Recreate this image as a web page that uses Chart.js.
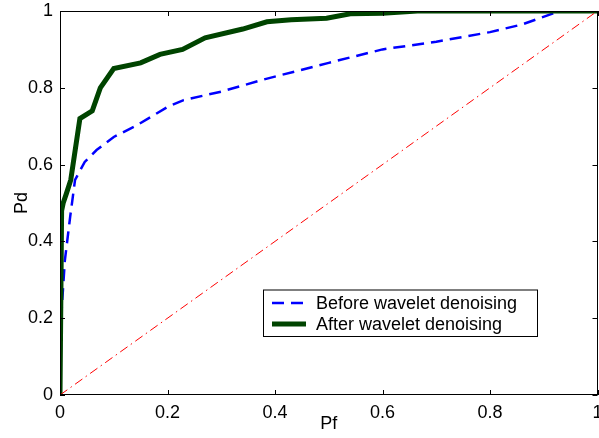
<!DOCTYPE html>
<html>
<head>
<meta charset="utf-8">
<script src="https://cdn.jsdelivr.net/npm/chart.js@4.4.0/dist/chart.umd.min.js"></script>
<style>
  html, body { margin: 0; padding: 0; background: #fff; }
</style>
</head>
<body>
<canvas id="roc" width="599" height="438"></canvas>
<script>
// data
const beforeX = [0, 0.003, 0.009, 0.019, 0.028, 0.046, 0.068, 0.1, 0.14, 0.2, 0.23, 0.3, 0.38, 0.5, 0.6, 0.7, 0.8, 0.86, 0.93, 1];
const beforeY = [0, 0.22, 0.35, 0.465, 0.56, 0.607, 0.638, 0.672, 0.7, 0.75, 0.768, 0.79, 0.822, 0.865, 0.9, 0.92, 0.945, 0.965, 1, 1];
const afterX = [0, 0.003, 0.006, 0.012, 0.02, 0.037, 0.06, 0.075, 0.1, 0.15, 0.186, 0.228, 0.27, 0.34, 0.385, 0.43, 0.496, 0.54, 0.6, 0.665, 1];
const afterY = [0, 0.48, 0.5, 0.525, 0.56, 0.72, 0.74, 0.8, 0.85, 0.865, 0.887, 0.9, 0.93, 0.953, 0.972, 0.977, 0.981, 0.993, 0.994, 1, 1];
const diagX = [0, 1];
const diagY = [0, 1];
const tickVals = [0, 0.2, 0.4, 0.6, 0.8, 1];
const tickText = ['0', '0.2', '0.4', '0.6', '0.8', '1'];
const labels = ['Before wavelet denoising', 'After wavelet denoising'];

const FONT = '"Liberation Sans", Arial, Helvetica, sans-serif';

function pts(xs, ys) {
  return xs.map((x, i) => ({ x: x, y: ys[i] }));
}

// box round the axes with MATLAB style inward ticks
const boxTicks = {
  id: 'boxTicks',
  afterDatasetsDraw(chart) {
    const { ctx, chartArea: a, scales } = chart;
    const len = 5;
    ctx.save();
    ctx.strokeStyle = '#000';
    ctx.lineWidth = 1;
    ctx.strokeRect(Math.round(a.left) + 0.5, Math.round(a.top) + 0.5,
      Math.round(a.right - a.left) - 1, Math.round(a.bottom - a.top) - 1);
    ctx.beginPath();
    tickVals.forEach(v => {
      const px = Math.round(scales.x.getPixelForValue(v)) + 0.5;
      ctx.moveTo(px, a.bottom); ctx.lineTo(px, a.bottom - len);
      ctx.moveTo(px, a.top); ctx.lineTo(px, a.top + len);
      const py = Math.round(scales.y.getPixelForValue(v)) + 0.5;
      ctx.moveTo(a.left, py); ctx.lineTo(a.left + len, py);
      ctx.moveTo(a.right, py); ctx.lineTo(a.right - len, py);
    });
    ctx.stroke();
    ctx.restore();
  }
};

// legend box inside the plot
const boxLegend = {
  id: 'boxLegend',
  afterDraw(chart) {
    const ctx = chart.ctx;
    const x0 = 263, y0 = 289.5, w = 274, h = 46.5;
    ctx.save();
    ctx.fillStyle = '#fff';
    ctx.fillRect(x0, y0, w, h);
    ctx.strokeStyle = '#000';
    ctx.lineWidth = 1;
    ctx.strokeRect(x0 + 0.5, y0 + 0.5, w, h);
    const rows = [303, 324];
    [0, 1].forEach(i => {
      const ds = chart.data.datasets[i];
      ctx.strokeStyle = ds.borderColor;
      ctx.lineWidth = ds.borderWidth;
      ctx.setLineDash(ds.borderDash || []);
      ctx.beginPath();
      ctx.moveTo(272, rows[i]);
      ctx.lineTo(306, rows[i]);
      ctx.stroke();
      ctx.setLineDash([]);
      ctx.fillStyle = '#000';
      ctx.font = '18px ' + FONT;
      ctx.textBaseline = 'middle';
      ctx.fillText(ds.label, 316, rows[i] + 1);
    });
    ctx.restore();
  }
};

const fmt = v => tickText[tickVals.indexOf(Math.round(v * 10) / 10)] || '';

new Chart(document.getElementById('roc'), {
  type: 'line',
  data: {
    datasets: [
      {
        label: labels[0],
        data: pts(beforeX, beforeY),
        borderColor: '#0000ff',
        borderWidth: 2.5,
        borderDash: [12, 7],
        pointRadius: 0,
        tension: 0,
        clip: 0,
        order: 2
      },
      {
        label: labels[1],
        data: pts(afterX, afterY),
        borderColor: '#004400',
        borderWidth: 5,
        pointRadius: 0,
        tension: 0,
        clip: 0,
        order: 1
      },
      {
        label: 'diag',
        data: pts(diagX, diagY),
        borderColor: '#ff0000',
        borderWidth: 1,
        borderDash: [9, 4, 1.5, 4],
        pointRadius: 0,
        clip: 0,
        order: 0
      }
    ]
  },
  options: {
    responsive: false,
    animation: false,
    layout: { padding: { left: 0, right: 1.5, top: 11, bottom: 0 } },
    plugins: { legend: { display: false }, tooltip: { enabled: false } },
    scales: {
      x: {
        type: 'linear',
        min: 0, max: 1,
        afterFit(s) { s.height = 43; s.paddingLeft = 0; s.paddingRight = 0; },
        afterBuildTicks(s) { s.ticks = tickVals.map(v => ({ value: v })); },
        grid: { display: false, drawTicks: false },
        border: { display: false },
        ticks: { color: '#000', padding: 7, maxRotation: 0, callback: fmt, font: { family: FONT, size: 18 } },
        title: { display: true, text: 'Pf', color: '#000', padding: { top: 0, bottom: 3 }, font: { family: FONT, size: 18 } }
      },
      y: {
        type: 'linear',
        min: 0, max: 1,
        afterFit(s) { s.width = 60; s.paddingTop = 0; s.paddingBottom = 0; },
        afterBuildTicks(s) { s.ticks = tickVals.map(v => ({ value: v })); },
        grid: { display: false, drawTicks: false },
        border: { display: false },
        ticks: { color: '#000', padding: 7, callback: fmt, font: { family: FONT, size: 18 } },
        title: { display: true, text: 'Pd', color: '#000', padding: { top: 11, bottom: 0 }, font: { family: FONT, size: 18 } }
      }
    }
  },
  plugins: [boxTicks, boxLegend]
});
</script>
</body>
</html>
